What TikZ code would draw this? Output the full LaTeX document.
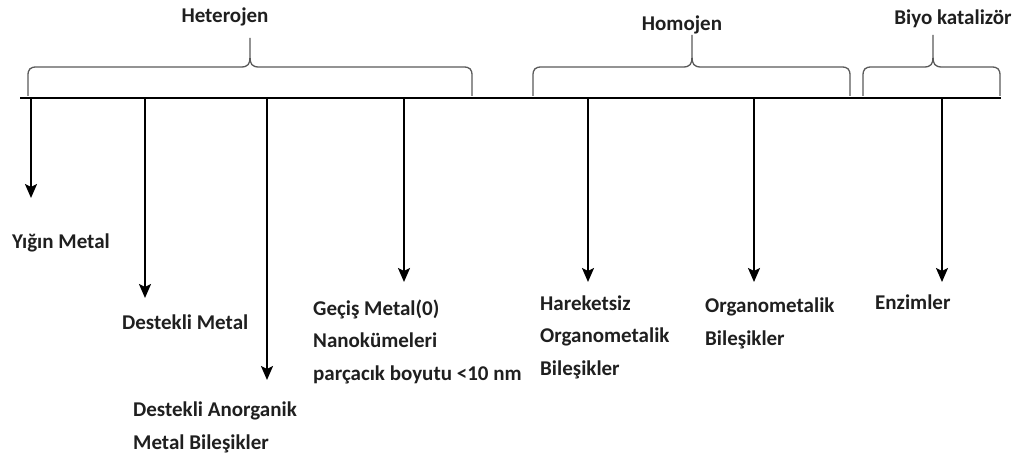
\documentclass[tikz,border=0pt]{standalone}
\usepackage{fontspec}
\setmainfont{Carlito}
\usetikzlibrary{arrows.meta}
\tikzset{
  lbl/.style={font=\fontsize{21}{32.5}\selectfont\bfseries, text=black!88, inner sep=0pt, align=left, anchor=base west},
  head/.style={font=\fontsize{21}{32}\selectfont\bfseries, text=black!88, inner sep=0pt, anchor=base},
  axis/.style={line width=2.8pt, black},
  arr/.style={line width=2.2pt, black, -{Stealth[length=14pt,width=12pt,inset=3pt]}},
  brace/.style={line width=1.3pt, black!65, line join=round}
}
\begin{document}
\begin{tikzpicture}[x=1pt,y=-1pt]
\useasboundingbox (0,0) rectangle (1021,457);
% main axis
\coordinate (L) at (20,98);
\coordinate (R) at (1001,98);
\draw[axis] (L) -- (R);
% braces
\draw[brace] (28,96) -- (28,76) .. controls (28,69) and (30,67) .. (37,67) -- (241,67)
  .. controls (248,67) and (250,64) .. (250,57) -- (250,38)
  (250,57) .. controls (250,64) and (252,67) .. (259,67) -- (463,67)
  .. controls (470,67) and (472,69) .. (472,76) -- (472,96);
\draw[brace] (533,96) -- (533,76) .. controls (533,69) and (535,67) .. (542,67) -- (683,67)
  .. controls (690,67) and (692,64) .. (692,57) -- (692,35)
  (692,57) .. controls (692,64) and (694,67) .. (701,67) -- (841,67)
  .. controls (848,67) and (850,69) .. (850,76) -- (850,96);
\draw[brace] (863,96) -- (863,76) .. controls (863,69) and (865,67) .. (872,67) -- (924,67)
  .. controls (931,67) and (933,64) .. (933,57) -- (933,35)
  (933,57) .. controls (933,64) and (935,67) .. (942,67) -- (991,67)
  .. controls (998,67) and (1000,69) .. (1000,76) -- (1000,96);
% headings
\node[head] (het) at (225,23) {Heterojen};
\node[head] (hom) at (682,31) {Homojen};
\node[head] (bio) at (953,25) {Biyo katalizör};
% arrow starts / ends
\coordinate (s1) at (31,98);  \coordinate (e1) at (31,198);
\coordinate (s2) at (145,98); \coordinate (e2) at (145,298);
\coordinate (s3) at (267,98); \coordinate (e3) at (267,380);
\coordinate (s4) at (404,98); \coordinate (e4) at (404,282);
\coordinate (s5) at (588,98); \coordinate (e5) at (588,282);
\coordinate (s6) at (754,98); \coordinate (e6) at (754,282);
\coordinate (s7) at (942,98); \coordinate (e7) at (942,282);
\foreach \i in {1,...,7}{\draw[arr] (s\i) -- (e\i);}
% labels (base anchor = baseline of last line)
\node[lbl] (l1) at (12,249) {Yığın Metal};
\node[lbl] (l2) at (122,330) {Destekli Metal};
\node[lbl] (l3) at (133,449) {Destekli Anorganik\\Metal Bileşikler};
\node[lbl] (l4) at (313,380) {Geçiş Metal(0)\\Nanokümeleri\\parçacık boyutu <10 nm};
\node[lbl] (l5) at (540,375) {Hareketsiz\\Organometalik\\Bileşikler};
\node[lbl] (l6) at (705,345) {Organometalik\\Bileşikler};
\node[lbl] (l7) at (875,310) {Enzimler};
\end{tikzpicture}
\end{document}
